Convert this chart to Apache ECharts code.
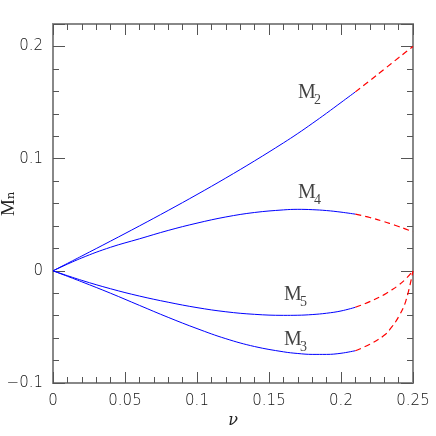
<html>
  <head>
    <title>Mn</title>
    <script src="https://cdn.jsdelivr.net/npm/echarts@6/dist/echarts.min.js"></script>
    <style>
      html, body { margin: 0; padding: 0; background: #fff; }
      #chart { width: 436px; height: 436px; }
    </style>
  </head>
  <body>
    <div id="chart"></div>
    <script>
      // x values of the solid part (blue) and the dashed part (red)
      var nuSolid = [0, 0.02, 0.04, 0.06, 0.08, 0.10, 0.12, 0.14, 0.16, 0.17, 0.18, 0.19, 0.20, 0.21]
      var nuDash = [0.21, 0.22, 0.23, 0.235, 0.24, 0.245, 0.25]

      var m2Solid = [0, 0.0132, 0.0265, 0.040, 0.0538, 0.068, 0.0827, 0.098, 0.114, 0.1224, 0.1313, 0.1405, 0.150, 0.1595]
      var m2Dash = [0.1595, 0.1695, 0.1797, 0.1848, 0.1899, 0.195, 0.200]

      var m4Solid = [0, 0.0115, 0.021, 0.0285, 0.036, 0.0425, 0.048, 0.052, 0.0543, 0.0548, 0.0545, 0.0537, 0.0523, 0.0505]
      var m4Dash = [0.0505, 0.0475, 0.0438, 0.0417, 0.0395, 0.0372, 0.0348]

      var m5Solid = [0, -0.0085, -0.016, -0.0225, -0.028, -0.0328, -0.0365, -0.0388, -0.0397, -0.0396, -0.0390, -0.0378, -0.0358, -0.0325]
      var m5Dash = [-0.0325, -0.0275, -0.0212, -0.0172, -0.0128, -0.0072, 0]

      var m3Solid = [0, -0.0098, -0.020, -0.0308, -0.0415, -0.0515, -0.0605, -0.0675, -0.0722, -0.0737, -0.0745, -0.0745, -0.0735, -0.0712]
      var m3Dash = [-0.0712, -0.0655, -0.0575, -0.0505, -0.041, -0.027, 0]

      var curveNames = ['2', '4', '5', '3']
      // where each curve name sits (data coords)
      var labelAt = [[0.1702, 0.1698], [0.1702, 0.0805], [0.1604, -0.0101], [0.1604, -0.0507]]

      var xTicks = [0, 0.05, 0.1, 0.15, 0.2, 0.25]

      function pairs(xs, ys) {
        return xs.map(function (x, i) { return [x, ys[i]] })
      }

      var tickFont = { fontFamily: 'DejaVu Sans', fontSize: 15, fontWeight: 200, color: '#111' }
      var lineStyleAxis = { color: '#888', width: 2 }

      function yLabel(v) {
        if (Math.abs(v * 10 - Math.round(v * 10)) > 1e-6) return ''
        if (Math.abs(v) < 1e-9) return '0'
        var s = String(Math.round(v * 10) / 10)
        return s.charAt(0) === '-' ? '\u2212' + s.slice(1) : s
      }

      function xAxisDef(pos, labels) {
        return {
          type: 'value', position: pos, min: 0, max: 0.25, interval: 0.05,
          axisLine: { show: true, onZero: false, lineStyle: lineStyleAxis },
          axisTick: { show: true, inside: true, length: 11, lineStyle: { color: '#555', width: 1 } },
          minorTick: { show: true, splitNumber: 5, length: 6, lineStyle: { color: '#555', width: 1 } },
          splitLine: { show: false },
          axisLabel: labels ? Object.assign({ margin: 3, formatter: function (v) {
            var i = xTicks.findIndex(function (t) { return Math.abs(t - v) < 1e-9 })
            return i < 0 ? '' : String(xTicks[i])
          } }, tickFont) : { show: false },
          name: labels ? '\u03bd' : '',
          nameLocation: 'middle',
          nameGap: 22,
          nameMoveOverlap: false,
          nameTextStyle: { fontFamily: 'DejaVu Serif', fontStyle: 'italic', fontSize: 16, color: '#222' }
        }
      }

      function yAxisDef(pos, major, labels) {
        return {
          type: 'value', position: pos, offset: 0, min: -0.1, max: 0.22, interval: major ? 0.1 : 0.02,
          axisLine: { show: true, onZero: false, lineStyle: lineStyleAxis },
          axisTick: { show: true, inside: true, length: major ? 12 : 6, lineStyle: { color: '#555', width: 1 } },
          splitLine: { show: false },
          axisLabel: labels ? Object.assign({ margin: 10, formatter: yLabel }, tickFont) : { show: false },
          name: labels ? 'M\u2099' : '',
          nameLocation: 'middle',
          nameGap: 29,
          nameMoveOverlap: false,
          nameTextStyle: { fontFamily: 'Liberation Serif, DejaVu Serif', fontSize: 19, color: '#222' }
        }
      }

      var solids = [m2Solid, m4Solid, m5Solid, m3Solid]
      var dashes = [m2Dash, m4Dash, m5Dash, m3Dash]
      var series = []
      solids.forEach(function (ys, k) {
        series.push({
          type: 'line', smooth: 0.4, symbol: 'none', data: pairs(nuSolid, ys),
          lineStyle: { color: '#0000ff', width: 1 }, z: 3
        })
        series.push({
          type: 'line', smooth: 0.4, symbol: 'none', data: pairs(nuDash, dashes[k]),
          lineStyle: { color: '#ff0000', width: 1.2, type: [6, 4] }, z: 3
        })
      })

      // curve names: the letter, then the subscript
      series.push({
        type: 'scatter', symbolSize: 0, silent: true,
        data: labelAt.map(function (p, k) { return { value: p, name: curveNames[k] } }),
        label: {
          show: true, position: [0, 0], align: 'left', verticalAlign: 'top', offset: [0, -3],
          formatter: 'M',
          fontFamily: 'Liberation Serif', fontSize: 20, color: '#111'
        }
      })
      series.push({
        type: 'scatter', symbolSize: 0, silent: true,
        data: labelAt.map(function (p, k) { return { value: p, name: curveNames[k] } }),
        label: {
          show: true, position: [0, 0], align: 'left', verticalAlign: 'top', offset: [16, 9],
          formatter: '{b}',
          fontFamily: 'Liberation Serif', fontSize: 14, color: '#111'
        }
      })

      var chart = echarts.init(document.getElementById('chart'), null, { renderer: 'canvas' })
      chart.setOption({
        animation: false,
        backgroundColor: '#fff',
        grid: { left: 53, right: 23, top: 24, bottom: 53, outerBoundsMode: 'none', containLabel: false },
        xAxis: [xAxisDef('bottom', true), xAxisDef('top', false)],
        yAxis: [yAxisDef('left', true, true), yAxisDef('left', false, false), yAxisDef('right', true, false), yAxisDef('right', false, false)],
        series: series
      })
    </script>
  </body>
</html>
